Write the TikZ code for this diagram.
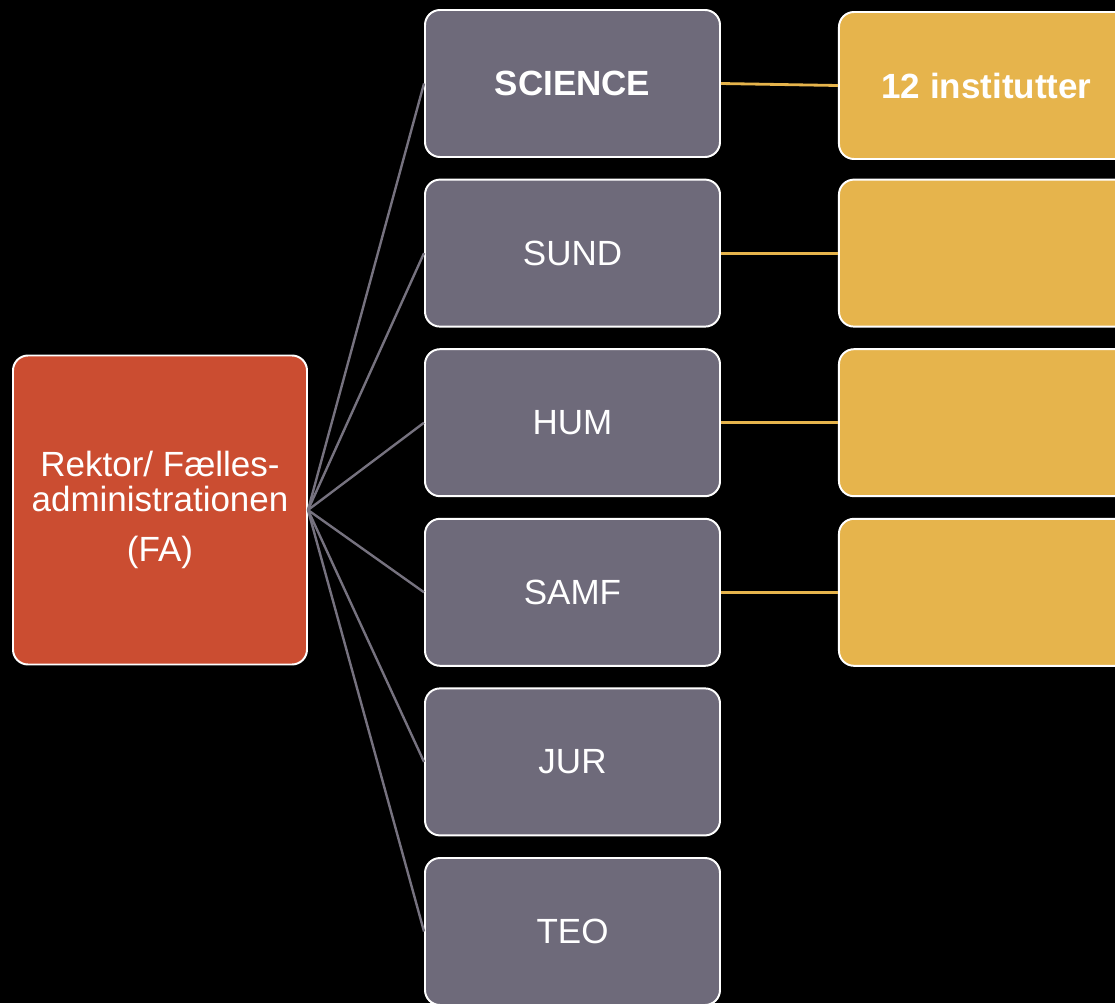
\documentclass[tikz,border=0pt]{standalone}
\usepackage{fontspec}
\setmainfont{Liberation Sans}
\usepackage{tikz}
\usetikzlibrary{positioning}
\usetikzlibrary{calc}
\definecolor{fa}{HTML}{CB4D31}
\definecolor{fak}{HTML}{6E6A7A}
\definecolor{inst}{HTML}{E6B44C}
\definecolor{forb}{HTML}{76727F}
\tikzset{every picture/.style={line width=1.4pt},box/.style={rounded corners=0.375cm,draw=white,text=white,minimum width=7.375cm,minimum height=3.675cm,align=center,font=\fontsize{24.9}{24.9}\selectfont}}

\begin{document}
\begin{tikzpicture}
\useasboundingbox (0,0) rectangle (27.875,-25.075);
\fill[black] (0,0) rectangle (27.875,-25.075);
\clip (0,0) rectangle (27.875,-25.075);

\node (fa) at (4.0,-12.75) [box,fill=fa,minimum width=7.35cm,minimum height=7.725cm] {Rektor/ Fælles-\\administrationen\\[11pt](FA)};

\foreach \x/\t in {1/\textbf{SCIENCE}, 2/SUND, 3/HUM, 4/SAMF, 5/JUR, 6/TEO} {
\node (f\x) at (14.3125,{-2.0875-4.24*(\x-1)}) [box,fill=fak] {\t};
\draw[forb,line width=1.7pt] (fa.east) -- (f\x.west);
}

\foreach \x/\t/\s in {1/\textbf{12 institutter}/-0.05, 2//0, 3//0, 4//0} {
\node (i\x) [right=2.925cm of f\x,yshift=\s cm,box,fill=inst] {\t};
\draw[inst,line width=2pt] (f\x.east) -- (i\x.west);
}

\end{tikzpicture}
\end{document}
